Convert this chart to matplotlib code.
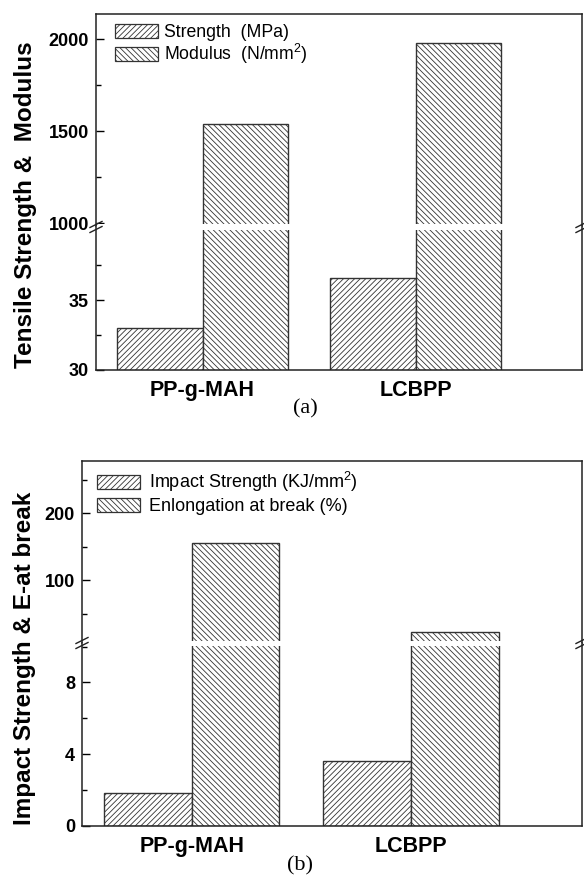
import matplotlib
matplotlib.use("Agg")
import matplotlib.pyplot as plt
from matplotlib.patches import Patch, Rectangle
from matplotlib.lines import Line2D

plt.rcParams['font.family'] = ['Liberation Sans', 'DejaVu Sans']
plt.rcParams['mathtext.fontset'] = 'custom'
plt.rcParams['mathtext.rm'] = 'Liberation Sans'
plt.rcParams['mathtext.it'] = 'Liberation Sans'
plt.rcParams['hatch.linewidth'] = 0.6

# data
samples = ['PP-g-MAH', 'LCBPP']
strength = [33.0, 36.6]          # MPa
modulus = [1540, 1980]           # N/mm2
impact = [1.85, 3.65]            # KJ/mm2
elongation = [155, 22]           # %

EDGE = '#333333'
H1 = '//////'
H2 = '\\\\\\\\\\\\'
W, H = 584, 882
fig = plt.figure(figsize=(W / 100, H / 100), dpi=100)


def px_box(left, right, top, bottom):
    return [left / W, 1 - bottom / H, (right - left) / W, (bottom - top) / H]


def style_axis(ax, major, minor, lower):
    ax.set_xlim(0.5, 2.78)
    ax.set_yticks(major)
    ax.set_yticks(minor, minor=True)
    ax.tick_params(axis='y', which='major', direction='in', length=6, width=1.0,
                   labelsize=13, pad=5)
    ax.tick_params(axis='y', which='minor', direction='in', length=3.5, width=1.0)
    ax.tick_params(axis='y', right=False)
    for t in ax.get_yticklabels():
        t.set_fontweight('bold')
    for s in ax.spines.values():
        s.set_linewidth(1.1)
        s.set_color('#222222')
    if lower:
        ax.spines['top'].set_visible(False)
        ax.set_xticks([1, 2])
        ax.set_xticklabels(samples, fontsize=15.5, fontweight='bold')
        ax.tick_params(axis='x', length=0, pad=7)
    else:
        ax.spines['bottom'].set_visible(False)
        ax.set_xticks([])


def draw_bars(ax, a, b):
    x = [1, 2]
    ax.bar([v - 0.2 for v in x], a, width=0.4, color='white', edgecolor=EDGE,
           hatch=H1, linewidth=1.0)
    ax.bar([v + 0.2 for v in x], b, width=0.4, color='white', edgecolor=EDGE,
           hatch=H2, linewidth=1.0)


def draw_break(left, right, y):
    # white gap through bars
    fig.patches.append(Rectangle(((left + 1) / W, 1 - (y + 2.5) / H),
                                 (right - left - 2) / W, 5 / H,
                                 transform=fig.transFigure, facecolor='white',
                                 edgecolor='none', zorder=5))
    for xs in (left, right):
        for dy in (-2.5, 2.5):
            fig.lines.append(Line2D([(xs - 6) / W, (xs + 6) / W],
                                    [1 - (y + dy + 3) / H, 1 - (y + dy - 3) / H],
                                    transform=fig.transFigure, color='#222222',
                                    linewidth=1.0, zorder=6))


def handles():
    return [Patch(facecolor='white', edgecolor=EDGE, hatch=H1, linewidth=0.9),
            Patch(facecolor='white', edgecolor=EDGE, hatch=H2, linewidth=0.9)]


# ---------- panel (a) ----------
a_up = fig.add_axes(px_box(96, 582, 14, 226))
a_lo = fig.add_axes(px_box(96, 582, 226, 370))
for ax in (a_up, a_lo):
    draw_bars(ax, strength, modulus)
a_up.set_ylim(984, 2136)
a_lo.set_ylim(30, 40.3)
style_axis(a_up, [1000, 1500, 2000], [1250, 1750], False)
style_axis(a_lo, [30, 35], [32.5, 37.5], True)
draw_break(96, 582, 227)

a_up.legend(handles=handles(),
            labels=['Strength  (MPa)', 'Modulus  (N/mm$^2$)'],
            loc='upper left', bbox_to_anchor=(115 / W, 1 - 24 / H),
            bbox_transform=fig.transFigure, frameon=False, fontsize=12.7,
            handlelength=2.45, handleheight=0.8, handletextpad=0.3,
            labelspacing=0.05, borderpad=0, borderaxespad=0)

fig.text(26 / W, 1 - 205 / H, 'Tensile Strength &  Modulus', rotation=90,
         fontsize=17.5, fontweight='bold', ha='center', va='center')
fig.text(305 / W, 1 - 409 / H, '(a)', fontsize=16, family='Liberation Serif',
         ha='center', va='center')

# ---------- panel (b) ----------
b_up = fig.add_axes(px_box(82, 582, 461, 643))
b_lo = fig.add_axes(px_box(82, 582, 643, 826))
for ax in (b_up, b_lo):
    draw_bars(ax, impact, elongation)
b_up.set_ylim(6, 278)
b_lo.set_ylim(0, 10.2)
style_axis(b_up, [100, 200], [50, 150, 250], False)
style_axis(b_lo, [0, 4, 8], [2, 6, 10], True)
draw_break(82, 582, 643)

b_up.legend(handles=handles(),
            labels=['Impact Strength (KJ/mm$^2$)', 'Enlongation at break (%)'],
            loc='upper left', bbox_to_anchor=(97 / W, 1 - 470 / H),
            bbox_transform=fig.transFigure, frameon=False, fontsize=13,
            handlelength=2.4, handleheight=0.85, handletextpad=0.5,
            labelspacing=0.2, borderpad=0, borderaxespad=0)

fig.text(25 / W, 1 - 658 / H, 'Impact Strength & E-at break', rotation=90,
         fontsize=17.5, fontweight='bold', ha='center', va='center')
fig.text(300 / W, 1 - 866 / H, '(b)', fontsize=16, family='Liberation Serif',
         ha='center', va='center')

fig.savefig('out.png', dpi=100)
